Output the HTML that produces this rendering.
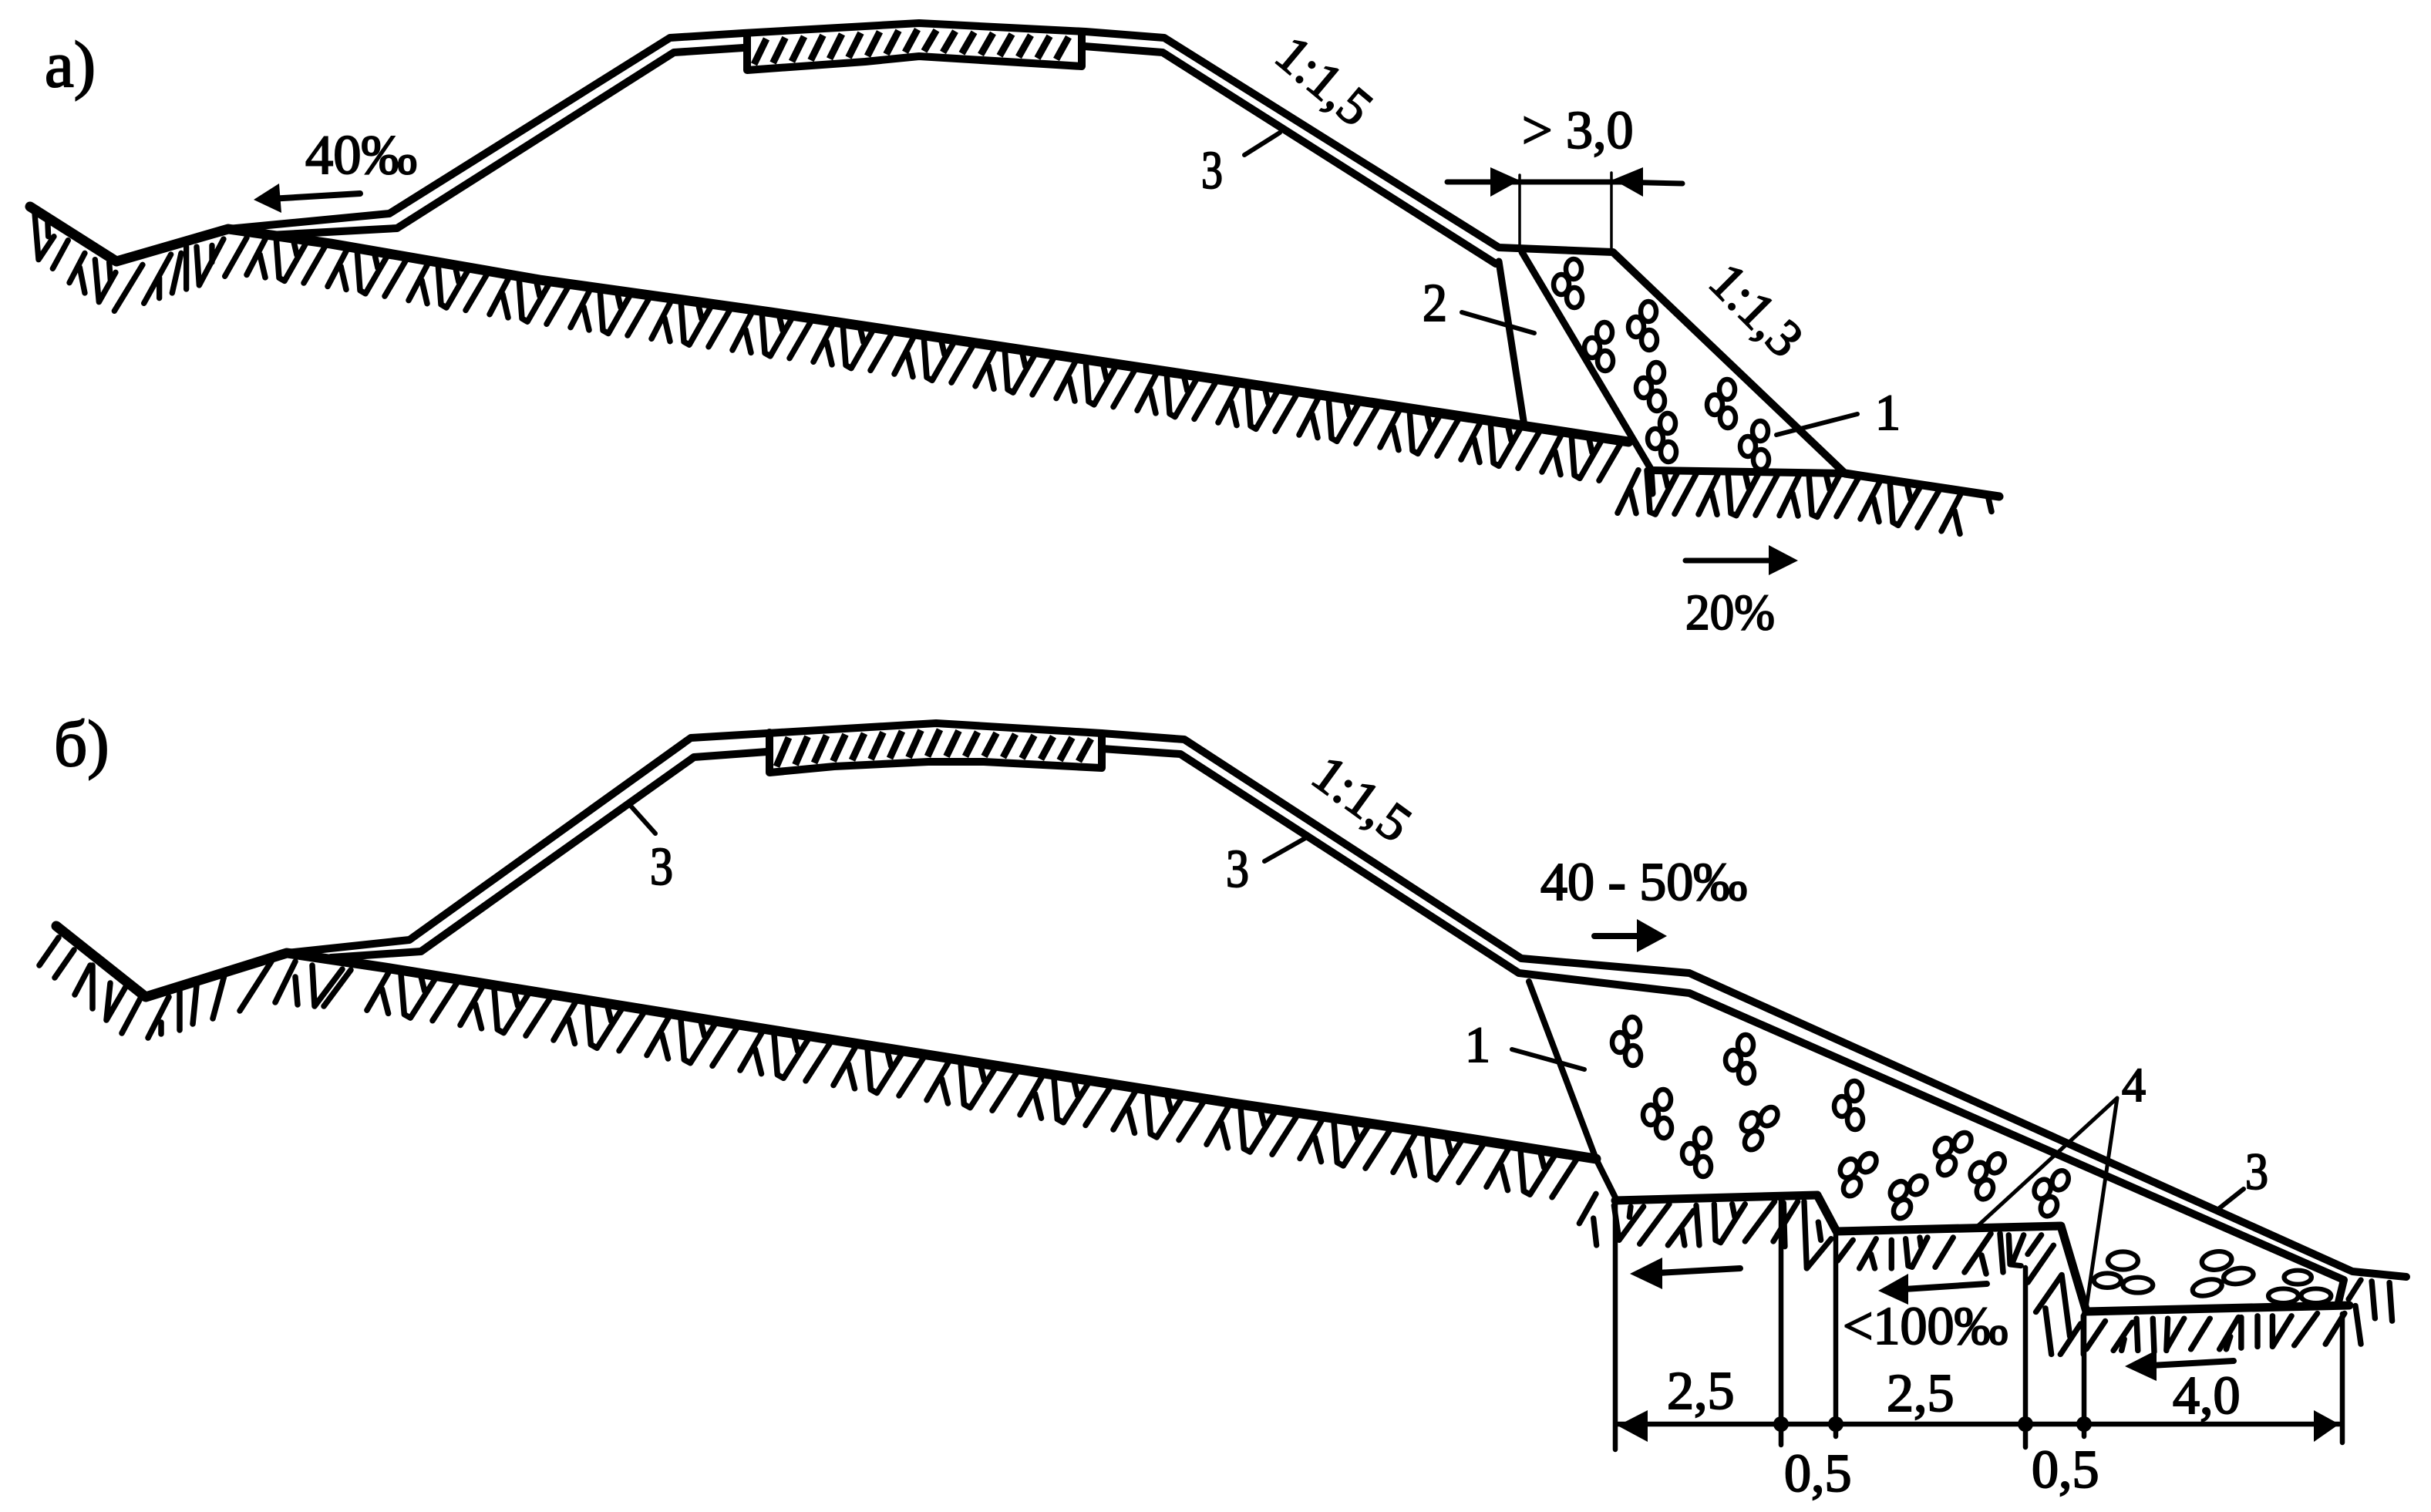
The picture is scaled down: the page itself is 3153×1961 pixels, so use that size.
<!DOCTYPE html>
<html><head><meta charset="utf-8"><style>
html,body{margin:0;padding:0;background:#fff}
svg{display:block}
text{font-family:"Liberation Serif","Noto Serif CJK SC",serif;fill:#000;stroke:#000;stroke-width:2}
.l{fill:none;stroke:#000;stroke-linejoin:round;stroke-linecap:round}
</style></head><body>
<svg id="s" xmlns="http://www.w3.org/2000/svg" width="3153" height="1961" viewBox="0 0 3153 1961">
<rect width="3153" height="1961" fill="#fff"/>
<defs>
<g id="c" fill="#fff" stroke="#000" stroke-width="6.5">
<ellipse cx="5" cy="-18" rx="10" ry="13"/><ellipse cx="-11" cy="2" rx="10" ry="13"/><ellipse cx="6" cy="19" rx="10" ry="13"/>
</g>
</defs>
<g id="h" class="l" stroke-width="7.5"></g>

<!-- Section A -->
<path class="l" stroke-width="13" d="M39,268 L151,339 L296,297 L429,316 L700,363 L1000,405 L1600,495 L1974,552 L2112,573"/>
<path class="l" stroke-width="10" d="M296,297 L505,277 L869,49 L964,43 L1192,30 L1408,41 L1510,49 L1944,321 L2092,327 L2393,614 L2143,610"/>
<path class="l" stroke-width="10" d="M350,305 L515,296 L874,68 L964,62 M1406,60 L1508,68 L1940,342"/>
<path class="l" stroke-width="9" d="M1974,327 L2141,608 L2143,640"/>
<path class="l" stroke-width="9" d="M1944,339 L1977,552"/>
<path class="l" stroke-width="11" d="M2393,614 L2593,644"/>
<path class="l" stroke-width="10" d="M969,44 L969,91 L1122,80 L1192,73 L1403,86 L1403,41"/>
<path class="l" stroke-width="6" d="M1614,201 L1660,172 M1896,405 L1990,432 M2304,564 L2409,537"/>
<path class="l" stroke-width="3.5" d="M1971,227 L1971,323 M2090,224 L2090,327"/>
<path class="l" stroke-width="7" d="M1877,236 L1960,236 L2100,236 M2100,236 L2182,238"/>
<polygon points="1971,234 1933,217 1933,255"/>
<polygon points="2092,233 2131,217 2131,255"/>
<path class="l" stroke-width="8" d="M467,251 L350,258"/>
<polygon points="329,259 362,238 365,276"/>
<path class="l" stroke-width="7" d="M2186,727 L2300,727"/>
<polygon points="2332,727 2294,707 2294,746"/>
<use href="#c" x="2036" y="367"/><use href="#c" x="2133" y="422"/><use href="#c" x="2076" y="449"/><use href="#c" x="2143" y="501"/><use href="#c" x="2235" y="523"/><use href="#c" x="2158" y="567"/><use href="#c" x="2278" y="577"/>

<text x="58" y="112" font-size="85">а)</text>
<text x="396" y="225" font-size="72" textLength="145" lengthAdjust="spacingAndGlyphs">40‰</text>
<text x="1558" y="244" font-size="70" textLength="28" lengthAdjust="spacingAndGlyphs">3</text>
<text transform="translate(1703 122) rotate(40)" text-anchor="middle" font-size="68">1:1,5</text>
<text x="1974" y="192" font-size="70">&gt; 3,0</text>
<text x="1845" y="416" font-size="70" textLength="32" lengthAdjust="spacingAndGlyphs">2</text>
<text x="2432" y="557" font-size="66">1</text>
<text transform="translate(2262 418) rotate(45)" text-anchor="middle" font-size="68">1:1,3</text>
<text x="2186" y="816" font-size="66" textLength="116" lengthAdjust="spacingAndGlyphs">20%</text>

<!-- Section B -->
<path class="l" stroke-width="13" d="M73,1201 L189,1293 L372,1236 L500,1255 L1020,1339 L1600,1431 L1850,1468 L2070,1503"/>
<path class="l" stroke-width="10" d="M372,1236 L531,1219 L896,957 L995,951 L1214,938 L1429,951 L1536,959 L1973,1243 L2191,1262 L3051,1649 L3121,1656"/>
<path class="l" stroke-width="10" d="M429,1242 L546,1234 L900,982 L995,975 M1429,971 L1531,978 L1970,1262 L2191,1288 L3040,1660 L3032,1693"/>
<path class="l" stroke-width="10" d="M998,950 L998,1002 L1082,994 L1204,988 L1276,988 L1429,996 L1429,951"/>
<path class="l" stroke-width="8" d="M1983,1273 L2070,1503 L2095,1553"/>
<path class="l" stroke-width="11" d="M2095,1557 L2357,1550 L2382,1597 L2673,1590 L2706,1701 L3047,1693"/>
<path class="l" stroke-width="6" d="M816,1043 L850,1081 M1640,1117 L1693,1087 M1961,1361 L2055,1387 M2910,1542 L2876,1569"/>
<path class="l" stroke-width="5" d="M2746,1424 L2565,1590 M2746,1424 L2706,1696"/>
<path class="l" stroke-width="6.5" d="M2095,1553 L2095,1880 M2310,1556 L2310,1874 M2381,1597 L2381,1863 M2627,1644 L2627,1877 M2703,1704 L2703,1863 M3038,1704 L3038,1871"/>
<path class="l" stroke-width="6.5" d="M2098,1847 L3034,1847"/>
<polygon points="2098,1849 2137,1829 2137,1870"/>
<polygon points="3034,1847 3001,1829 3001,1870"/>
<circle cx="2310" cy="1847" r="10"/><circle cx="2381" cy="1847" r="10"/><circle cx="2627" cy="1847" r="10"/><circle cx="2703" cy="1847" r="10"/>
<path class="l" stroke-width="8" d="M2068,1214 L2130,1214"/>
<polygon points="2162,1214 2123,1192 2123,1235"/>
<path class="l" stroke-width="8" d="M2257,1645 L2150,1651"/>
<polygon points="2114,1652 2156,1631 2156,1672"/>
<path class="l" stroke-width="8" d="M2577,1665 L2470,1672"/>
<polygon points="2436,1674 2475,1652 2475,1692"/>
<path class="l" stroke-width="8" d="M2897,1765 L2790,1771"/>
<polygon points="2756,1772 2797,1751 2797,1791"/>
<use href="#c" transform="translate(2112 1350)"/><use href="#c" transform="translate(2259 1373)"/><use href="#c" transform="translate(2152 1444)"/><use href="#c" transform="translate(2203 1494)"/><use href="#c" transform="translate(2280 1460) rotate(35)"/><use href="#c" transform="translate(2400 1433)"/><use href="#c" transform="translate(2408 1520) rotate(35)"/><use href="#c" transform="translate(2473 1549) rotate(35)"/><use href="#c" transform="translate(2531 1493) rotate(35)"/><use href="#c" transform="translate(2577 1523) rotate(25)"/><use href="#c" transform="translate(2660 1545) rotate(25)"/>

<!-- bench hatching traced from detail -->
<path class="l" stroke-width="7.5" d="M2582,1600 L2548,1650 M2570,1628 L2576,1652 M2594,1600 L2598,1650"/>
<g class="l" stroke-width="22" transform="translate(2050 1520) scale(.3333)">
<path d="M60,85 L-5,200 M50,180 L62,285 M130,130 L150,265 L245,135 M195,135 L190,175 M345,125 L230,280 M440,150 L340,285 M395,225 L405,285 M450,130 L462,285 M520,125 L525,265 L545,275 L640,125 M590,125 L600,175 M755,115 L640,270 M845,115 L750,270 M790,120 L795,290 M870,115 L880,375 L975,260 M925,195 L935,265 M1060,265 L1000,345 M1150,260 L1085,375 M1130,320 L1145,375 M1210,265 L1210,375 M1265,260 L1275,365 L1290,370 L1350,255 M1320,255 L1325,290 M1450,255 L1380,370"/>
</g>
<g class="l" stroke-width="21" transform="translate(2600 1560) scale(.3527 .3333)">
<path d="M15,125 L20,240 L60,245 M70,125 L30,230 M135,125 L85,200 M180,165 L85,310 M210,280 L115,425 M150,410 L172,590 M210,280 L240,520 M280,470 L205,590 M290,440 L290,590 M370,460 L300,570 M470,465 L400,575 M440,530 L430,575 M485,450 L490,575 M545,450 L550,580 M600,450 L595,575 M660,450 L595,570 M755,450 L685,570 M860,445 L790,570 M830,520 L815,570 M870,445 L870,565 M930,440 L930,560 M985,440 L985,560 L1055,440 M1150,430 L1065,555 M1250,430 L1180,550 M1290,400 L1310,550 M1310,300 L1265,375 M1350,305 L1362,450 M1415,310 L1425,460"/>
<g fill="#fff" stroke-width="18">
<ellipse cx="435" cy="225" rx="55" ry="35"/><ellipse cx="378" cy="302" rx="50" ry="28"/><ellipse cx="490" cy="320" rx="55" ry="30"/>
<ellipse cx="780" cy="225" rx="55" ry="35" transform="rotate(-10 780 225)"/><ellipse cx="745" cy="330" rx="55" ry="30" transform="rotate(-15 745 330)"/><ellipse cx="860" cy="285" rx="55" ry="30" transform="rotate(-10 860 285)"/>
<ellipse cx="1078" cy="290" rx="50" ry="27"/><ellipse cx="1025" cy="362" rx="55" ry="28"/><ellipse cx="1145" cy="362" rx="55" ry="28"/>
</g>
</g>
<g class="l" stroke-width="22" transform="translate(0 240) scale(.3333)">
<path d="M135,110 L150,290 L210,200 M185,130 L188,200 M265,215 L205,325 M330,265 L270,380 M310,320 L330,420 M370,290 L385,455 L450,340 M425,300 L430,370 M555,310 L445,490 M665,270 L560,460 M620,360 L620,440 M705,265 L670,420 M725,240 L725,405 M765,240 L775,390 L870,210 M825,235 L825,300 M960,205 L875,355"/>
</g>
<g class="l" stroke-width="7.5">
<path d="M76,1216 L51,1252 M96,1232 L71,1268 M117,1252 L97,1290 M120,1252 L120,1308 M143,1275 L138,1323 M163,1280 L138,1323 M182,1295 L158,1340 M219,1293 L192,1346 M209,1326 L209,1341 M233,1285 L233,1336 M255,1278 L250,1328 M291,1265 L276,1321 M352,1247 L311,1311 M383,1247 L357,1300 M383,1267 L386,1303 M405,1252 L408,1305 L444,1257 M455,1258 L420,1305"/>
</g>

<text x="70" y="993" font-size="85">б)</text>
<text x="843" y="1147" font-size="70" textLength="30" lengthAdjust="spacingAndGlyphs">3</text>
<text x="1590" y="1150" font-size="70" textLength="30" lengthAdjust="spacingAndGlyphs">3</text>
<text transform="translate(1753 1054) rotate(36)" text-anchor="middle" font-size="68">1:1,5</text>
<text x="1998" y="1167" font-size="70">40 - 50‰</text>
<text x="1900" y="1377" font-size="66">1</text>
<text x="2752" y="1428" font-size="62">4</text>
<text x="2912" y="1542" font-size="68" textLength="30" lengthAdjust="spacingAndGlyphs">3</text>
<text x="2390" y="1743" font-size="70">&lt;100‰</text>
<text x="2162" y="1827" font-size="70">2,5</text>
<text x="2447" y="1830" font-size="70">2,5</text>
<text x="2818" y="1833" font-size="70">4,0</text>
<text x="2314" y="1934" font-size="70">0,5</text>
<text x="2635" y="1929" font-size="70">0,5</text>
</svg>
<script>
(function(){
var U=[[[0,0],[-27,56]],[[-10,27],[-3,56]],[[11,0],[15,54],[22,57],[52,0]],[[33,0],[38,21]],[[77,0],[47,56]]];
function L(p,x){for(var i=0;i<p.length-1;i++){if(x<=p[i+1][0]||i==p.length-2){var t=(x-p[i][0])/(p[i+1][0]-p[i][0]);return p[i][1]+t*(p[i+1][1]-p[i][1]);}}}
function series(p,s,per,e,sx,sy){var d="";for(var x=s;x<e;x+=per){U.forEach(function(st){
if(x+st[0][0]*sx>e||x+st[st.length-1][0]*sx>e)return;
st.forEach(function(q,i){var X=x+q[0]*sx;d+=(i?"L":"M")+X.toFixed(1)+","+(L(p,X)+q[1]*sy).toFixed(1);});});}return d;}
var A=[[296,297],[429,316],[700,363],[1000,405],[1600,495],[1974,552],[2112,573]];
var A2=[[2143,610],[2393,614],[2593,644]];
var B=[[372,1236],[500,1255],[1020,1339],[1600,1431],[1850,1468],[2070,1503]];
var d=series(A,347,105,2110,1,1)+series(A2,2125,105,2590,1,1)+series(B,507,121,2066,1.15,1.05);
var NS="http://www.w3.org/2000/svg",g=document.getElementById("h");
var pa=document.createElementNS(NS,"path");pa.setAttribute("d",d);g.appendChild(pa);
function pave(top,bot,a,b){var dd="";for(var x=a;x<b;x+=24.5){dd+="M"+(x+8).toFixed(1)+","+(L(top,x+8)+8).toFixed(1)+"L"+(x-8).toFixed(1)+","+(L(bot,x-8)-7).toFixed(1);}
var q=document.createElementNS(NS,"path");q.setAttribute("d",dd);q.setAttribute("stroke-width","9");q.setAttribute("stroke-linecap","butt");g.appendChild(q);}
pave([[969,44],[1192,30],[1403,41]],[[969,91],[1122,80],[1192,73],[1403,86]],986,1396);
pave([[998,950],[1214,938],[1429,951]],[[998,1002],[1082,994],[1204,988],[1276,988],[1429,996]],1015,1422);
})();
</script>
</body></html>
